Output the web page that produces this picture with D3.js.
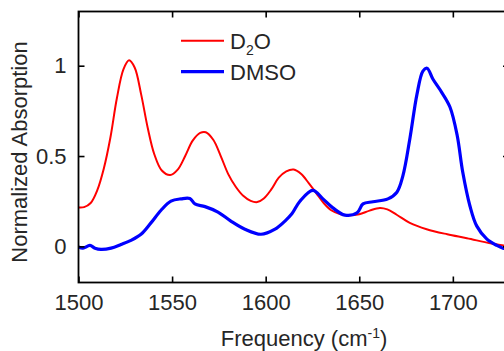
<!DOCTYPE html>
<html>
<head>
<meta charset="utf-8">
<script src="https://cdn.jsdelivr.net/npm/d3@7"></script>
<style>
    body { margin: 0; background: #fff; }
    svg { display: block; font-family: "Liberation Sans", Arial, sans-serif; }
    .lbl { fill: #262626; font-size: 22px; }
</style>
</head>
<body>
<svg id="chart" width="504" height="351"></svg>
<script>
// D2O spectrum
const d2oFreq = [1500, 1503, 1506.5, 1510, 1513.5, 1517, 1520.5, 1524, 1527, 1530, 1533.5, 1537, 1540.5, 1544.5,
    1549, 1553, 1557, 1561, 1565, 1568, 1572, 1576, 1580, 1584, 1588, 1592, 1595.5, 1599, 1603, 1607, 1611,
    1615, 1619, 1623, 1627, 1631, 1635, 1640, 1645, 1650, 1655.5, 1661, 1665, 1670, 1677, 1686, 1697, 1707.5,
    1720, 1727, 1730];
const d2oAbs = [0.215, 0.217, 0.24, 0.31, 0.43, 0.60, 0.82, 0.98, 1.03, 0.99, 0.84, 0.655, 0.51, 0.42,
    0.395, 0.425, 0.50, 0.585, 0.628, 0.632, 0.59, 0.50, 0.40, 0.33, 0.28, 0.252, 0.245, 0.265, 0.315, 0.38, 0.415,
    0.425, 0.40, 0.35, 0.295, 0.24, 0.20, 0.178, 0.172, 0.178, 0.198, 0.213, 0.205, 0.175, 0.13, 0.095, 0.067, 0.045,
    0.017, 0.005, 0.0];

// DMSO spectrum
const dmsoFreq = [1500, 1502.4, 1506.1, 1508.8, 1512, 1517.4, 1522.7, 1528, 1533.4, 1538.7, 1544.1, 1549.4, 1554.8,
    1559.5, 1562.2, 1567.6, 1574.5, 1581.4, 1588.9, 1597.5, 1605, 1610.3, 1614, 1618.3, 1625.2, 1630.6, 1635.9,
    1642.3, 1648.8, 1652, 1657.3, 1665.3, 1670.1, 1673.3, 1677.1, 1680.8, 1684, 1686.2, 1689.4, 1694.2, 1698.5,
    1702.3, 1705.3, 1709.1, 1712.8, 1718.2, 1723.5, 1726.8, 1730];
const dmsoAbs = [-0.004, -0.01, 0.005, -0.01, -0.017, -0.01, 0.01, 0.033, 0.067, 0.13, 0.20, 0.25, 0.263,
    0.265, 0.235, 0.22, 0.19, 0.14, 0.095, 0.067, 0.095, 0.14, 0.18, 0.25, 0.31, 0.263, 0.213,
    0.173, 0.185, 0.235, 0.247, 0.263, 0.30, 0.39, 0.60, 0.84, 0.97, 0.986, 0.925, 0.85, 0.77,
    0.615, 0.41, 0.225, 0.112, 0.04, 0.005, -0.01, -0.015];

const xTicks = [1500, 1550, 1600, 1650, 1700];
const yTicks = [0, 0.5, 1];
const yTickLabels = ['0', '0.5', '1'];
const seriesNames = ['D\u2082O', 'DMSO'];
const seriesColors = ['#ff0000', '#0000ff'];

const plotL = 78.5, plotR = 509, plotT = 11.5, plotB = 282.5;

const svg = d3.select('#chart');
const x = d3.scaleLinear().domain([1500, 1730]).range([plotL, plotR]);
const y = d3.scaleLinear().domain([-0.2, 1.3]).range([plotB, plotT]);

svg.append('defs').append('clipPath').attr('id', 'plotclip')
    .append('rect').attr('x', plotL).attr('y', plotT).attr('width', plotR - plotL).attr('height', plotB - plotT);

const line = d3.line()
    .x(d => x(d[0]))
    .y(d => y(d[1]))
    .curve(d3.curveCatmullRom.alpha(0.5));

const plot = svg.append('g').attr('clip-path', 'url(#plotclip)');
plot.append('path')
    .datum(d3.zip(d2oFreq, d2oAbs))
    .attr('fill', 'none').attr('stroke', seriesColors[0]).attr('stroke-width', 2)
    .attr('d', line);
plot.append('path')
    .datum(d3.zip(dmsoFreq, dmsoAbs))
    .attr('fill', 'none').attr('stroke', seriesColors[1]).attr('stroke-width', 3.2)
    .attr('d', line);

// axes (box with inward ticks)
const styleAxis = g => {
    g.select('.domain').remove();
    g.selectAll('.tick line').attr('stroke', '#000').attr('stroke-width', 1.6);
    g.selectAll('.tick text').attr('class', 'lbl').attr('fill', '#262626').style('font-size', '22px');
};

svg.append('g').attr('transform', `translate(0,${plotB})`)
    .call(d3.axisBottom(x).tickValues(xTicks).tickFormat(d3.format('d')).tickSizeInner(-6).tickPadding(12))
    .call(styleAxis);
svg.append('g').attr('transform', `translate(0,${plotT})`)
    .call(d3.axisTop(x).tickValues(xTicks).tickFormat('').tickSizeInner(-6))
    .call(styleAxis);
svg.append('g').attr('transform', `translate(${plotL},0)`)
    .call(d3.axisLeft(y).tickValues(yTicks).tickFormat((d, i) => yTickLabels[i]).tickSizeInner(-6).tickPadding(12))
    .call(styleAxis);
svg.append('g').attr('transform', `translate(${plotR},0)`)
    .call(d3.axisRight(y).tickValues(yTicks).tickFormat('').tickSizeInner(-6))
    .call(styleAxis);

svg.append('rect')
    .attr('x', plotL).attr('y', plotT).attr('width', plotR - plotL).attr('height', plotB - plotT)
    .attr('fill', 'none').attr('stroke', '#000').attr('stroke-width', 1.8);

// axis titles
const xt = svg.append('text').attr('class', 'lbl')
    .attr('x', 304).attr('y', 346).attr('text-anchor', 'middle');
xt.append('tspan').text('Frequency (cm');
xt.append('tspan').attr('dy', -8).style('font-size', '14px').text('-1');
xt.append('tspan').attr('dy', 8).text(')');

svg.append('text').attr('class', 'lbl')
    .attr('transform', `translate(27,152) rotate(-90)`)
    .attr('text-anchor', 'middle')
    .text('Normalized Absorption');

// legend
const legend = svg.append('g');
const legendY = [40.7, 71.7];
seriesNames.forEach((name, i) => {
    legend.append('line')
        .attr('x1', 181).attr('x2', 224).attr('y1', legendY[i]).attr('y2', legendY[i])
        .attr('stroke', seriesColors[i]).attr('stroke-width', i === 0 ? 2 : 3.2);
    const t = legend.append('text').attr('class', 'lbl')
        .attr('x', 230).attr('y', legendY[i]).attr('dy', '0.36em');
    if (i === 0) {
        t.append('tspan').text('D');
        t.append('tspan').attr('dy', 6).style('font-size', '14px').text('2');
        t.append('tspan').attr('dy', -6).text('O');
    } else {
        t.text(name);
    }
});
</script>
</body>
</html>
